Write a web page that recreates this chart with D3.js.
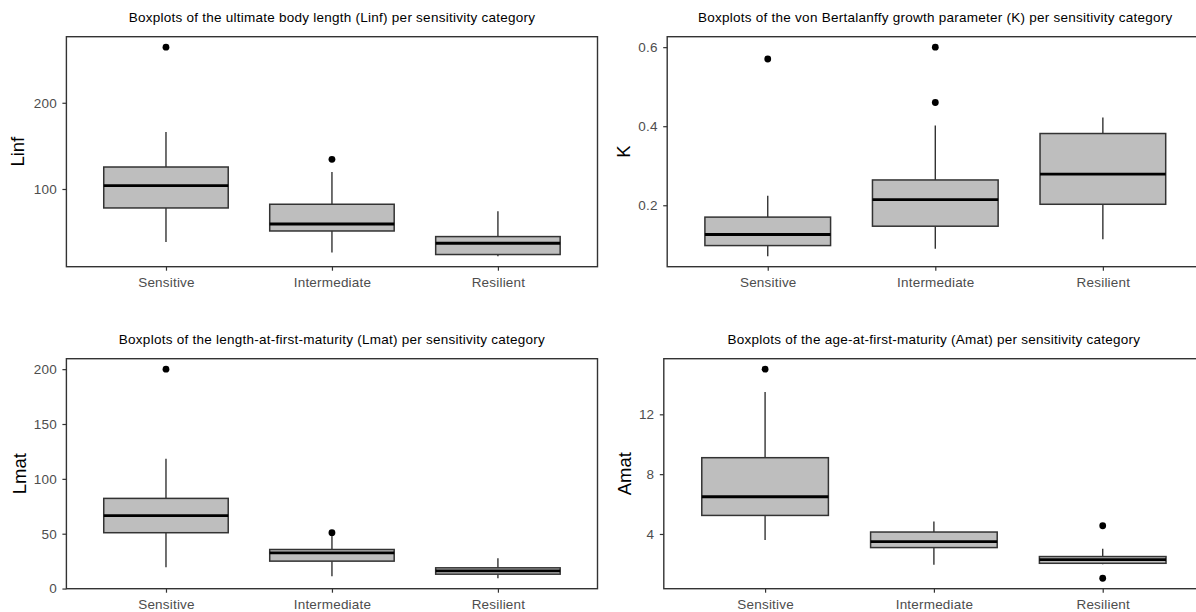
<!DOCTYPE html>
<html>
<head>
<meta charset="utf-8">
<script src="https://cdn.jsdelivr.net/npm/d3@7"></script>
<style>
  html, body { margin: 0; padding: 0; background: #ffffff; }
  svg { display: block; }
</style>
</head>
<body>
<svg id="chart" width="1196" height="612"></svg>
<script>
// ---------------- data ----------------
const categories = ["Sensitive", "Intermediate", "Resilient"];

// rows per category: [lower whisker, Q1, median, Q3, upper whisker]
const linfStats = [
  [38.6, 78, 104, 125.5, 166],
  [26.3, 51.3, 59.4, 82.3, 119.7],
  [22, 24, 37.1, 44.8, 74.2]
];
const linfOutliers = [[264.5], [134.4], []];
const linfTicks = [100, 200];

const kStats = [
  [0.071, 0.098, 0.126, 0.170, 0.224],
  [0.090, 0.147, 0.214, 0.264, 0.402],
  [0.114, 0.2025, 0.279, 0.3815, 0.422]
];
const kOutliers = [[0.570], [0.600, 0.460], []];
const kTicks = [0.2, 0.4, 0.6];

const lmatStats = [
  [19.5, 50.9, 66.4, 82.2, 118.4],
  [11.3, 25, 32.6, 35.6, 48.4],
  [9.4, 13.1, 16.2, 18.9, 27.7]
];
const lmatOutliers = [[200], [50.9], []];
const lmatTicks = [0, 50, 100, 150, 200];

const amatStats = [
  [3.6, 5.24, 6.49, 9.1, 13.5],
  [1.95, 3.09, 3.49, 4.13, 4.84],
  [1.98, 2.04, 2.29, 2.49, 3.02]
];
const amatOutliers = [[15.02], [], [4.55, 1.04]];
const amatTicks = [4, 8, 12];

// ---------------- layout ----------------
const panels = [
  { title: "Boxplots of the ultimate body length (Linf) per sensitivity category",
    ylab: "Linf", stats: linfStats, outliers: linfOutliers, ticks: linfTicks,
    x0: 66.4, x1: 597.5, y0: 36.7, y1: 266.7, ylabX: 17.5 },
  { title: "Boxplots of the von Bertalanffy growth parameter (K) per sensitivity category",
    ylab: "K", stats: kStats, outliers: kOutliers, ticks: kTicks,
    x0: 667.2, x1: 1203.4, y0: 36.7, y1: 266.7, ylabX: 623.7 },
  { title: "Boxplots of the length-at-first-maturity (Lmat) per sensitivity category",
    ylab: "Lmat", stats: lmatStats, outliers: lmatOutliers, ticks: lmatTicks,
    x0: 66.4, x1: 597.5, y0: 358.7, y1: 588.7, ylabX: 19.2 },
  { title: "Boxplots of the age-at-first-maturity (Amat) per sensitivity category",
    ylab: "Amat", stats: amatStats, outliers: amatOutliers, ticks: amatTicks,
    x0: 663.8, x1: 1204, y0: 358.7, y1: 588.7, ylabX: 624.7 }
];

const svg = d3.select("#chart");
const FONT = "'Liberation Sans', Arial, sans-serif";
const lineCol = "#333333";

panels.forEach(p => {
  const g = svg.append("g");

  // y domain from data with 5% expansion (ggplot default)
  const allVals = [];
  p.stats.forEach(s => allVals.push(...s));
  p.outliers.forEach(o => allVals.push(...o));
  const mn = d3.min(allVals), mx = d3.max(allVals);
  const pad = (mx - mn) * 0.05;
  const y = d3.scaleLinear().domain([mn - pad, mx + pad]).range([p.y1, p.y0]);

  const x = d3.scalePoint().domain(categories).range([p.x0, p.x1]).padding(0.6);
  const step = x.step();
  const bw = step * 0.75;

  // title
  g.append("text")
    .attr("x", (p.x0 + p.x1) / 2)
    .attr("y", p.y0 - 15)
    .attr("text-anchor", "middle")
    .style("font-family", FONT)
    .style("font-size", "13.5px")
    .style("letter-spacing", "0.25px")
    .style("fill", "#000")
    .text(p.title);

  // y axis title
  g.append("text")
    .attr("transform", `translate(${p.ylabX},${(p.y0 + p.y1) / 2}) rotate(-90)`)
    .attr("text-anchor", "middle")
    .attr("dy", "0.36em")
    .style("font-family", FONT)
    .style("font-size", "18.5px")
    .style("fill", "#000")
    .text(p.ylab);

  // boxes
  const data = categories.map((c, i) => ({ c, s: p.stats[i], o: p.outliers[i] }));
  const bx = g.append("g").selectAll("g").data(data).join("g");

  // whiskers
  bx.append("line")
    .attr("x1", d => x(d.c)).attr("x2", d => x(d.c))
    .attr("y1", d => y(d.s[3])).attr("y2", d => y(d.s[4]))
    .attr("stroke", lineCol).attr("stroke-width", 1.4);
  bx.append("line")
    .attr("x1", d => x(d.c)).attr("x2", d => x(d.c))
    .attr("y1", d => y(d.s[1])).attr("y2", d => y(d.s[0]))
    .attr("stroke", lineCol).attr("stroke-width", 1.4);

  // box
  bx.append("rect")
    .attr("x", d => x(d.c) - bw / 2)
    .attr("width", bw)
    .attr("y", d => y(d.s[3]))
    .attr("height", d => y(d.s[1]) - y(d.s[3]))
    .attr("fill", "#bebebe")
    .attr("stroke", lineCol)
    .attr("stroke-width", 1.5);

  // median
  bx.append("line")
    .attr("x1", d => x(d.c) - bw / 2).attr("x2", d => x(d.c) + bw / 2)
    .attr("y1", d => y(d.s[2])).attr("y2", d => y(d.s[2]))
    .attr("stroke", "#000").attr("stroke-width", 2.8);

  // outliers
  bx.selectAll("circle").data(d => d.o.map(v => ({ c: d.c, v })))
    .join("circle")
    .attr("cx", d => x(d.c)).attr("cy", d => y(d.v))
    .attr("r", 3.4).attr("fill", "#000");

  // panel border
  g.append("rect")
    .attr("x", p.x0).attr("y", p.y0)
    .attr("width", p.x1 - p.x0).attr("height", p.y1 - p.y0)
    .attr("fill", "none").attr("stroke", lineCol).attr("stroke-width", 1.4);

  // y axis
  const yAxis = d3.axisLeft(y).tickValues(p.ticks).tickSize(4).tickPadding(5.5)
    .tickFormat(d3.format("~g"));
  const ya = g.append("g").attr("transform", `translate(${p.x0},0)`).call(yAxis);
  ya.select(".domain").remove();
  ya.selectAll(".tick line").attr("stroke", lineCol).attr("stroke-width", 1.2);
  ya.selectAll(".tick text")
    .style("font-family", FONT).style("font-size", "13.5px")
    .style("letter-spacing", "0.2px")
    .attr("fill", "#4d4d4d");

  // x axis
  const xAxis = d3.axisBottom(x).tickSize(4).tickPadding(7);
  const xa = g.append("g").attr("transform", `translate(0,${p.y1})`).call(xAxis);
  xa.select(".domain").remove();
  xa.selectAll(".tick line").attr("stroke", lineCol).attr("stroke-width", 1.2);
  xa.selectAll(".tick text")
    .style("font-family", FONT).style("font-size", "13.5px")
    .style("letter-spacing", "0.2px")
    .attr("fill", "#4d4d4d");
});
</script>
</body>
</html>
